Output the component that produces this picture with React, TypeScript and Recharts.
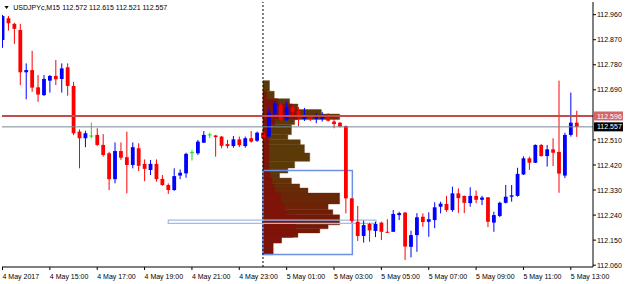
import {
  ComposedChart,
  Bar,
  XAxis,
  YAxis,
  ReferenceArea,
  ReferenceLine,
} from "recharts";

// USDJPYc M15 bars, 4 May 2017 13:00 .. 5 May 2017 13:15
const openPrices = [
  112.869, 112.947, 112.927, 112.905, 112.753, 112.761, 112.699, 112.671, 112.723, 112.74,
  112.729, 112.771, 112.704, 112.54, 112.516, 112.524, 112.528, 112.492, 112.462, 112.369,
  112.47, 112.448, 112.42, 112.48, 112.424, 112.402, 112.424, 112.37, 112.348, 112.33,
  112.382, 112.39, 112.464, 112.462, 112.5, 112.528, 112.526, 112.522, 112.495, 112.488,
  112.512, 112.488, 112.516, 112.507, 112.536, 112.522, 112.603, 112.637, 112.583, 112.627,
  112.614, 112.585, 112.594, 112.586, 112.586, 112.591, 112.576, 112.572, 112.56, 112.3,
  112.216, 112.165, 112.208, 112.183, 112.213, 112.18, 112.18, 112.24, 112.249, 112.126,
  112.168, 112.234, 112.216, 112.222, 112.27, 112.28, 112.258, 112.318, 112.309, 112.283,
  112.309, 112.295, 112.304, 112.213, 112.237, 112.284, 112.306, 112.309, 112.386, 112.444,
  112.428, 112.492, 112.452, 112.476, 112.467, 112.382, 112.528, 112.572,
];
const highPrices = [
  112.959, 112.955, 112.931, 112.927, 112.785, 112.83, 112.743, 112.743, 112.743, 112.797,
  112.785, 112.785, 112.719, 112.548, 112.543, 112.572, 112.552, 112.531, 112.467, 112.501,
  112.501, 112.54, 112.501, 112.498, 112.44, 112.438, 112.44, 112.384, 112.354, 112.408,
  112.404, 112.464, 112.474, 112.51, 112.542, 112.536, 112.528, 112.524, 112.51, 112.524,
  112.522, 112.522, 112.542, 112.54, 112.542, 112.624, 112.65, 112.643, 112.648, 112.636,
  112.628, 112.625, 112.6, 112.606, 112.611, 112.606, 112.588, 112.574, 112.562, 112.301,
  112.273, 112.22, 112.212, 112.216, 112.216, 112.225, 112.258, 112.252, 112.251, 112.184,
  112.247, 112.246, 112.25, 112.286, 112.288, 112.309, 112.342, 112.336, 112.31, 112.34,
  112.328, 112.309, 112.305, 112.252, 112.288, 112.348, 112.348, 112.41, 112.451, 112.45,
  112.494, 112.495, 112.492, 112.516, 112.723, 112.536, 112.68, 112.615,
];
const lowPrices = [
  112.841, 112.903, 112.855, 112.707, 112.656, 112.683, 112.647, 112.668, 112.68, 112.707,
  112.68, 112.669, 112.527, 112.408, 112.484, 112.516, 112.488, 112.45, 112.33, 112.354,
  112.438, 112.318, 112.408, 112.398, 112.362, 112.384, 112.36, 112.345, 112.316, 112.327,
  112.369, 112.374, 112.436, 112.456, 112.499, 112.516, 112.45, 112.48, 112.48, 112.482,
  112.484, 112.482, 112.5, 112.503, 112.513, 112.521, 112.6, 112.578, 112.578, 112.6,
  112.56, 112.578, 112.578, 112.57, 112.576, 112.576, 112.552, 112.555, 112.246, 112.212,
  112.147, 112.141, 112.144, 112.161, 112.15, 112.177, 112.18, 112.222, 112.079, 112.088,
  112.108, 112.198, 112.162, 112.193, 112.246, 112.252, 112.252, 112.247, 112.247, 112.27,
  112.283, 112.276, 112.197, 112.18, 112.233, 112.282, 112.288, 112.306, 112.384, 112.402,
  112.427, 112.45, 112.414, 112.416, 112.32, 112.373, 112.522, 112.521,
];
const closePrices = [
  112.955, 112.929, 112.909, 112.753, 112.761, 112.698, 112.673, 112.729, 112.74, 112.728,
  112.767, 112.704, 112.534, 112.516, 112.534, 112.524, 112.492, 112.456, 112.369, 112.47,
  112.446, 112.42, 112.484, 112.417, 112.406, 112.424, 112.369, 112.348, 112.33, 112.38,
  112.392, 112.46, 112.464, 112.504, 112.528, 112.528, 112.52, 112.489, 112.488, 112.512,
  112.491, 112.516, 112.504, 112.536, 112.516, 112.608, 112.641, 112.583, 112.627, 112.611,
  112.592, 112.594, 112.587, 112.592, 112.594, 112.579, 112.567, 112.558, 112.3, 112.219,
  112.165, 112.204, 112.185, 112.208, 112.18, 112.177, 112.244, 112.247, 112.127, 112.168,
  112.232, 112.215, 112.225, 112.268, 112.281, 112.258, 112.318, 112.301, 112.284, 112.309,
  112.295, 112.303, 112.216, 112.24, 112.284, 112.306, 112.311, 112.388, 112.444, 112.428,
  112.492, 112.452, 112.476, 112.464, 112.389, 112.528, 112.572, 112.557,
];

const timeTickBars = [0, 8, 16, 24, 32, 40, 48, 56, 64, 72, 80, 88, 96];
const timeLabels = [
  "4 May 2017", "4 May 15:00", "4 May 17:00", "4 May 19:00", "4 May 21:00",
  "4 May 23:00", "5 May 01:00", "5 May 03:00", "5 May 05:00", "5 May 07:00",
  "5 May 09:00", "5 May 11:00", "5 May 13:00",
];
const priceTicks = [112.06, 112.15, 112.24, 112.33, 112.42, 112.51, 112.69, 112.78, 112.87, 112.96];

const levelPrice = 112.596;
const bidPrice = 112.557;

// session profile (5 May), rows bottom-up, widths in bars
const sessionStartBar = 44;
const profileEdges = [
  112.098, 112.14, 112.16, 112.176, 112.191, 112.205, 112.241, 112.259, 112.28, 112.319,
  112.337, 112.352, 112.373, 112.391, 112.409, 112.433, 112.463, 112.493, 112.511, 112.529,
  112.553, 112.565, 112.583, 112.603, 112.619, 112.639, 112.658, 112.685, 112.723,
];
const profileTpo = [
  1.7, 3.1, 5.9, 9.6, 11, 12.95, 11.8, 11, 12.95, 7.6,
  6.2, 4.8, 2.8, 4.2, 5.35, 7.9, 7.0, 6.3, 4.2, 4.8,
  4.8, 5.35, 12.95, 9.85, 5.9, 4.5, 1.9, 1.1,
];
const profileCore = [
  1.7, 3.1, 5, 5.5, 5.5, 5.5, 4, 3.5, 3, 2,
  1.8, 1.5, 1.2, 1, 1, 1, 1, 1, 1, 1,
  1, 2, 5.8, 5.8, 5, 2.5, 0.6, 0,
];
const valueAreaBars = [44, 59.1];
const valueAreaPrices = [112.098, 112.4];
const pocBars = [28, 63.1];
const pocPrices = [112.21, 112.222];

const FONT = "'Liberation Sans', Arial, sans-serif";
const BULL = "#0000ff";
const BEAR = "#ff0000";
const DOJI = "#11dd11";
const BODY = 3.8;

const data = openPrices.map((o, i) => ({
  i,
  open: o,
  high: highPrices[i],
  low: lowPrices[i],
  close: closePrices[i],
}));

function mix(a: number[], b: number[], t: number) {
  const c = a.map((v, k) => Math.round(v + (b[k] - v) * t));
  return `rgb(${c[0]},${c[1]},${c[2]})`;
}

// brown at the top of the profile, turning rust-red toward the bottom
function outerColor(mid: number) {
  const t = Math.min(1, Math.max(0, (112.42 - mid) / 0.2));
  return mix([92, 58, 8], [116, 26, 6], t);
}

function Candle(props: any) {
  const { x, y, width, height, payload } = props;
  if (!payload || x == null || y == null) return null;
  const { open, close, high, low } = payload;
  const top = Math.min(y, y + height);
  const bottom = Math.max(y, y + height);
  const py = (p: number) => top + ((high - p) / (high - low)) * (bottom - top);
  const cx = x + width / 2;
  const color = close > open ? BULL : close < open ? BEAR : DOJI;
  const yo = py(open);
  const yc = py(close);
  return (
    <g>
      <line x1={cx} x2={cx} y1={top} y2={bottom} stroke={color} strokeWidth={1} />
      {close === open ? (
        <line x1={cx - 2} x2={cx + 2} y1={yo} y2={yo} stroke={color} strokeWidth={1} />
      ) : (
        <rect
          x={cx - BODY / 2}
          y={Math.min(yo, yc)}
          width={BODY}
          height={Math.max(Math.abs(yc - yo), 1)}
          fill={color}
        />
      )}
    </g>
  );
}

function PriceTick(props: any) {
  const { x, y, payload } = props;
  const v = payload.value;
  if (v === levelPrice || v === bidPrice) {
    return (
      <g>
        <rect x={x + 1} y={y - 4.5} width={29} height={9} fill={v === levelPrice ? "#d46666" : "#000"} />
        <text x={x + 4} y={y + 2.6} fill="#fff" fontSize={7} fontFamily={FONT}>
          {v.toFixed(3)}
        </text>
      </g>
    );
  }
  return (
    <g>
      <line x1={x} x2={x + 3} y1={y} y2={y} stroke="#000" />
      <text x={x + 4} y={y + 2.6} fill="#000" fontSize={7} fontFamily={FONT}>
        {v.toFixed(3)}
      </text>
    </g>
  );
}

function TimeTick(props: any) {
  const { x, y, payload } = props;
  const label = timeLabels[timeTickBars.indexOf(payload.value)];
  return (
    <g>
      <line x1={x} x2={x} y1={y} y2={y + 3} stroke="#000" />
      <text x={x} y={y + 11.5} fill="#000" fontSize={7} fontFamily={FONT}>
        {label}
      </text>
    </g>
  );
}

export default function App() {
  const last = openPrices.length - 1;
  const ohlc = [openPrices[last], highPrices[last], lowPrices[last], closePrices[last]]
    .map((v) => v.toFixed(3))
    .join(" ");

  return (
    <div style={{ position: "absolute", left: 0, top: 0, width: 625, height: 284, background: "#fff" }}>
      <ComposedChart
        width={625}
        height={284}
        data={data}
        margin={{ top: 2, right: 0, bottom: 0, left: 2 }}
      >
        <XAxis
          dataKey="i"
          type="number"
          domain={[-0.085, 99.75]}
          allowDataOverflow
          ticks={timeTickBars}
          interval={0}
          height={17}
          tickSize={0}
          tickMargin={0}
          tickLine={false}
          axisLine={{ stroke: "#000" }}
          tick={<TimeTick />}
        />
        <XAxis
          xAxisId="top"
          orientation="top"
          type="number"
          domain={[0, 1]}
          height={0}
          tick={false}
          tickLine={false}
          axisLine={{ stroke: "#555" }}
        />
        <YAxis
          orientation="right"
          type="number"
          domain={[112.0535, 113.0055]}
          allowDataOverflow
          ticks={[...priceTicks, bidPrice, levelPrice]}
          interval={0}
          width={32}
          tickSize={0}
          tickMargin={0}
          tickLine={false}
          axisLine={{ stroke: "#000" }}
          tick={<PriceTick />}
        />
        <YAxis
          yAxisId="left"
          orientation="left"
          type="number"
          domain={[0, 1]}
          width={0}
          tick={false}
          tickLine={false}
          axisLine={{ stroke: "#555" }}
        />

        {/* session profile */}
        {profileTpo.map((w, k) => (
          <ReferenceArea
            key={`tpo${k}`}
            x1={sessionStartBar}
            x2={sessionStartBar + w}
            y1={profileEdges[k]}
            y2={profileEdges[k + 1]}
            fill={outerColor((profileEdges[k] + profileEdges[k + 1]) / 2)}
            fillOpacity={1}
            stroke={outerColor((profileEdges[k] + profileEdges[k + 1]) / 2)}
            strokeWidth={0.4}
          />
        ))}
        {profileCore.map((w, k) =>
          w > 0 ? (
            <ReferenceArea
              key={`core${k}`}
              x1={sessionStartBar}
              x2={sessionStartBar + w}
              y1={profileEdges[k]}
              y2={profileEdges[k + 1]}
              fill="#7e1409"
              fillOpacity={1}
              stroke="#7e1409"
              strokeWidth={0.4}
            />
          ) : null
        )}
        <ReferenceArea
          x1={valueAreaBars[0]}
          x2={valueAreaBars[1]}
          y1={valueAreaPrices[0]}
          y2={valueAreaPrices[1]}
          fill="none"
          stroke="#6d8fe4"
          strokeWidth={1.5}
        />
        <ReferenceArea
          x1={pocBars[0]}
          x2={pocBars[1]}
          y1={pocPrices[0]}
          y2={pocPrices[1]}
          fill="none"
          stroke="#a3b9e6"
          strokeWidth={1.2}
        />

        <Bar
          dataKey={(d: any) => [d.low, d.high]}
          barSize={4}
          shape={(p: any) => <Candle {...p} />}
          isAnimationActive={false}
        />

        <ReferenceLine x={sessionStartBar} stroke="#000" strokeDasharray="2 2" />
        <ReferenceLine y={levelPrice} stroke="#c64b4b" strokeWidth={2} />
        <ReferenceLine y={bidPrice} stroke="#7a8794" strokeWidth={1} />
      </ComposedChart>

      <svg width={625} height={16} style={{ position: "absolute", left: 0, top: 0 }}>
        <polygon points="4.5,6 8.7,6 6.6,8.9" fill="#000" />
        <text x={13.3} y={10.3} fontSize={7} fontFamily={FONT} fill="#000">
          USDJPYc,M15
        </text>
        <text x={62.3} y={10.3} fontSize={7} fontFamily={FONT} fill="#000">
          {ohlc}
        </text>
      </svg>
    </div>
  );
}
